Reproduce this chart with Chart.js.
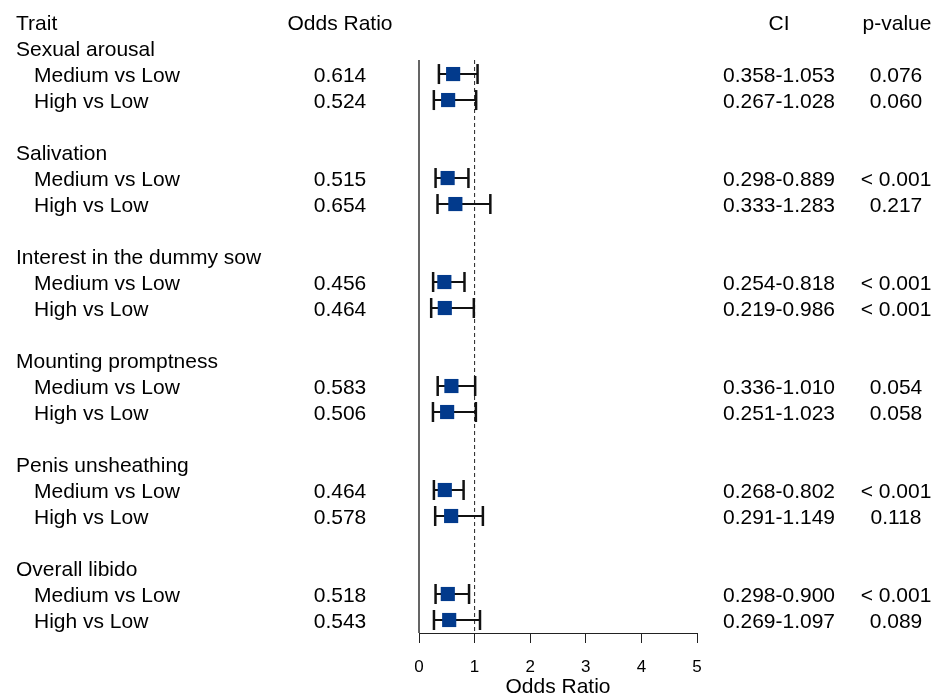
<!DOCTYPE html>
<html>
<head>
<meta charset="utf-8">
<script src="https://cdn.jsdelivr.net/npm/chart.js@4.4.0/dist/chart.umd.min.js"></script>
<style>
  body { margin: 0; background: #fff; }
  #wrap { width: 937px; height: 700px; }
</style>
</head>
<body>
<div id="wrap"><canvas id="forest"></canvas></div>
<script>
const groups = ['Sexual arousal', 'Salivation', 'Interest in the dummy sow', 'Mounting promptness', 'Penis unsheathing', 'Overall libido'];
const comparisons = ['Medium vs Low', 'High vs Low'];
const oddsRatio = [0.614, 0.524, 0.515, 0.654, 0.456, 0.464, 0.583, 0.506, 0.464, 0.578, 0.518, 0.543];
const ciLow  = [0.358, 0.267, 0.298, 0.333, 0.254, 0.219, 0.336, 0.251, 0.268, 0.291, 0.298, 0.269];
const ciHigh = [1.053, 1.028, 0.889, 1.283, 0.818, 0.986, 1.010, 1.023, 0.802, 1.149, 0.900, 1.097];
const pValues = ['0.076', '0.060', '< 0.001', '0.217', '< 0.001', '< 0.001', '0.054', '0.058', '< 0.001', '0.118', '< 0.001', '0.089'];
const xTicks = [0, 1, 2, 3, 4, 5];
const headers = ['Trait', 'Odds Ratio', 'CI', 'p-value'];

// row index of each estimate: group header at 4g, comparisons below it
const rowOf = i => Math.floor(i / 2) * 4 + 1 + (i % 2);
const yMin = 0.46, yMax = 22.5;

const FONT = "'Liberation Sans', Arial, sans-serif";
const navy = '#023a8c';

const barSets = oddsRatio.map((v, i) => ({
  type: 'line',
  data: [{x: ciLow[i], y: rowOf(i)}, {x: ciHigh[i], y: rowOf(i)}],
  borderColor: '#111', borderWidth: 2, pointRadius: 0, order: 2, clip: false
}));

const caps = {
  type: 'scatter',
  data: oddsRatio.flatMap((v, i) => [{x: ciLow[i], y: rowOf(i)}, {x: ciHigh[i], y: rowOf(i)}]),
  pointStyle: 'line', rotation: 90, radius: 10,
  borderColor: '#111', borderWidth: 2.5, order: 1, clip: false
};

const squares = {
  type: 'scatter',
  data: oddsRatio.map((v, i) => ({x: v, y: rowOf(i)})),
  pointStyle: 'rect', radius: 10,
  backgroundColor: navy, borderWidth: 0, order: 0, clip: false
};

const zeroLine = {
  type: 'line',
  data: [{x: 0, y: yMin}, {x: 0, y: yMax}],
  borderColor: '#333', borderWidth: 1.5, pointRadius: 0, order: 5, clip: false
};

const refLine = {
  type: 'line',
  data: [{x: 1, y: yMin}, {x: 1, y: yMax}],
  borderColor: '#222', borderWidth: 1, borderDash: [4, 3], pointRadius: 0, order: 4, clip: false
};

const tablePlugin = {
  id: 'tableText',
  afterDraw(chart) {
    const ctx = chart.ctx, y = chart.scales.y;
    ctx.save();
    ctx.fillStyle = '#000';
    ctx.font = '21px ' + FONT;
    ctx.textBaseline = 'middle';
    const put = (txt, x, row, align) => {
      ctx.textAlign = align;
      ctx.fillText(txt, x, y.getPixelForValue(row) + 2);
    };
    put(headers[0], 16, -1, 'left');
    put(headers[1], 340, -1, 'center');
    put(headers[2], 779, -1, 'center');
    put(headers[3], 897, -1, 'center');
    groups.forEach((g, k) => put(g, 16, k * 4, 'left'));
    oddsRatio.forEach((v, i) => {
      const r = rowOf(i);
      put(comparisons[i % 2], 34, r, 'left');
      put(v.toFixed(3), 340, r, 'center');
      put(ciLow[i].toFixed(3) + '-' + ciHigh[i].toFixed(3), 779, r, 'center');
      put(pValues[i], 896, r, 'center');
    });
    ctx.restore();
  }
};

new Chart(document.getElementById('forest'), {
  data: { datasets: [squares, caps, ...barSets, refLine, zeroLine] },
  options: {
    responsive: true,
    maintainAspectRatio: false,
    animation: false,
    layout: { padding: { left: 419, right: 240, top: 60, bottom: 0 } },
    plugins: { legend: { display: false }, tooltip: { enabled: false } },
    scales: {
      x: {
        type: 'linear', min: 0, max: 5,
        afterBuildTicks: s => { s.ticks = xTicks.map(v => ({value: v})); },
        afterFit: s => { s.height = 67; },
        grid: { drawOnChartArea: false, color: '#222', tickLength: 10, lineWidth: 1 },
        border: { display: true, color: '#222', width: 1 },
        ticks: { color: '#000', font: { family: FONT, size: 17 }, padding: 14 },
        title: { display: true, text: 'Odds Ratio', color: '#000', font: { family: FONT, size: 21 }, padding: 0 }
      },
      y: {
        type: 'linear', display: false, reverse: true, min: yMin, max: yMax
      }
    }
  },
  plugins: [tablePlugin]
});
</script>
</body>
</html>
